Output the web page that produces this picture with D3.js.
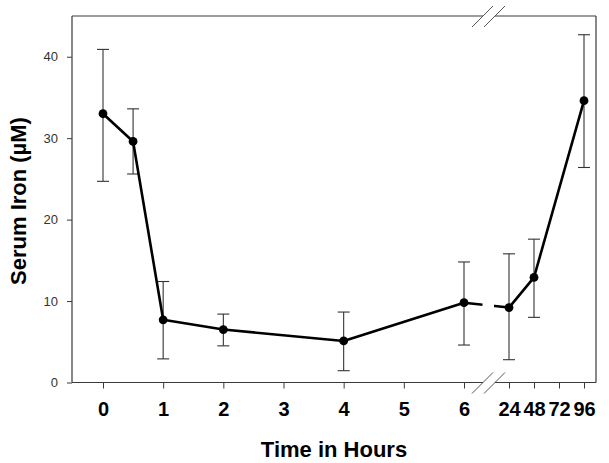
<!DOCTYPE html>
<html>
<head>
<meta charset="utf-8">
<script src="https://cdn.jsdelivr.net/npm/d3@7/dist/d3.min.js"></script>
<style>
  html, body { margin: 0; padding: 0; background: #fff; }
  svg { display: block; }
</style>
</head>
<body>
<svg id="chart" width="609" height="463"></svg>
<script>
// ---- data ----
const times = [0, 0.5, 1, 2, 4, 6, 24, 48, 96];
const meanIron = [33.0, 29.6, 7.7, 6.5, 5.1, 9.8, 9.2, 12.9, 34.6];
const upperIron = [40.9, 33.6, 12.4, 8.4, 8.65, 14.8, 15.8, 17.6, 42.7];
const lowerIron = [24.7, 25.6, 2.9, 4.5, 1.45, 4.6, 2.8, 8.0, 26.4];
const xTicks = [0, 1, 2, 3, 4, 5, 6, 24, 48, 72, 96];
const yTicks = [0, 10, 20, 30, 40];
const xTitle = "Time in Hours";
const yTitle = "Serum Iron (\u00B5M)";

const data = times.map((t, i) => ({t, m: meanIron[i], hi: upperIron[i], lo: lowerIron[i]}));

// ---- layout ----
const L = 72, R = 596, T = 16, B = 382.5;
const svg = d3.select("#chart");

const x = d3.scaleLinear().domain([0, 6, 24, 96]).range([103, 464, 509, 584]);
const y = d3.scaleLinear().domain([0, 45]).range([B, T]);

const frameColor = "#3a3a3a";
const gapL = 483, gapR = 495;

// axes
const yAxis = d3.axisLeft(y).tickValues(yTicks).tickSize(5).tickPadding(9);
const gy = svg.append("g").attr("transform", `translate(${L},0)`).call(yAxis);
gy.select(".domain").remove();
gy.selectAll(".tick line").attr("stroke", frameColor);
gy.selectAll(".tick text").attr("fill", "#333").style("font-family", "Arial, 'Liberation Sans', sans-serif").style("font-size", "13px");

const xAxis = d3.axisBottom(x).tickValues(xTicks).tickSize(6).tickPadding(13).tickFormat(d => d);
const gx = svg.append("g").attr("transform", `translate(0,${B})`).call(xAxis);
gx.select(".domain").remove();
gx.selectAll(".tick line").attr("stroke", frameColor);
gx.selectAll(".tick text").attr("fill", "#000").style("font-family", "Arial, 'Liberation Sans', sans-serif").style("font-size", "20px").style("font-weight", "bold");

// frame with breaks
const frame = svg.append("g").attr("stroke", frameColor).attr("stroke-width", 1.2).attr("fill", "none");
frame.append("line").attr("x1", L).attr("x2", L).attr("y1", T).attr("y2", B);
frame.append("line").attr("x1", R).attr("x2", R).attr("y1", T).attr("y2", B);
[T, B].forEach(yy => {
  frame.append("line").attr("x1", L).attr("x2", gapL).attr("y1", yy).attr("y2", yy);
  frame.append("line").attr("x1", gapR).attr("x2", R).attr("y1", yy).attr("y2", yy);
  [gapL, gapR].forEach(gx0 => {
    frame.append("line")
      .attr("x1", gx0 - 11).attr("y1", yy + 11)
      .attr("x2", gx0 + 10).attr("y2", yy - 10)
      .attr("stroke", "#555").attr("stroke-width", 1);
  });
});

// error bars
const eb = svg.append("g").attr("stroke", "#333").attr("stroke-width", 1.1);
data.forEach(d => {
  const cx = x(d.t);
  eb.append("line").attr("x1", cx).attr("x2", cx).attr("y1", y(d.hi)).attr("y2", y(d.lo));
  eb.append("line").attr("x1", cx - 6).attr("x2", cx + 6).attr("y1", y(d.hi)).attr("y2", y(d.hi));
  eb.append("line").attr("x1", cx - 6).attr("x2", cx + 6).attr("y1", y(d.lo)).attr("y2", y(d.lo));
});

// line with gap
const defs = svg.append("defs");
const clip = defs.append("clipPath").attr("id", "gapclip");
clip.append("rect").attr("x", 0).attr("y", 0).attr("width", gapL - 0.5).attr("height", 463);
clip.append("rect").attr("x", gapR - 1).attr("y", 0).attr("width", 609).attr("height", 463);

const line = d3.line().x(d => x(d.t)).y(d => y(d.m));
svg.append("path").datum(data)
  .attr("d", line)
  .attr("fill", "none")
  .attr("stroke", "#000")
  .attr("stroke-width", 2.6)
  .attr("stroke-linejoin", "round")
  .attr("clip-path", "url(#gapclip)");

svg.append("g").selectAll("circle").data(data).join("circle")
  .attr("cx", d => x(d.t)).attr("cy", d => y(d.m)).attr("r", 4.4).attr("fill", "#000");

// titles
svg.append("text")
  .attr("x", (L + R) / 2).attr("y", 457)
  .attr("text-anchor", "middle")
  .style("font-family", "Arial, 'Liberation Sans', sans-serif")
  .style("font-size", "22px").style("font-weight", "bold")
  .text(xTitle);

svg.append("text")
  .attr("transform", `translate(26,201) rotate(-90)`)
  .attr("text-anchor", "middle")
  .style("font-family", "Arial, 'Liberation Sans', sans-serif")
  .style("font-size", "22px").style("font-weight", "bold")
  .text(yTitle);
</script>
</body>
</html>
